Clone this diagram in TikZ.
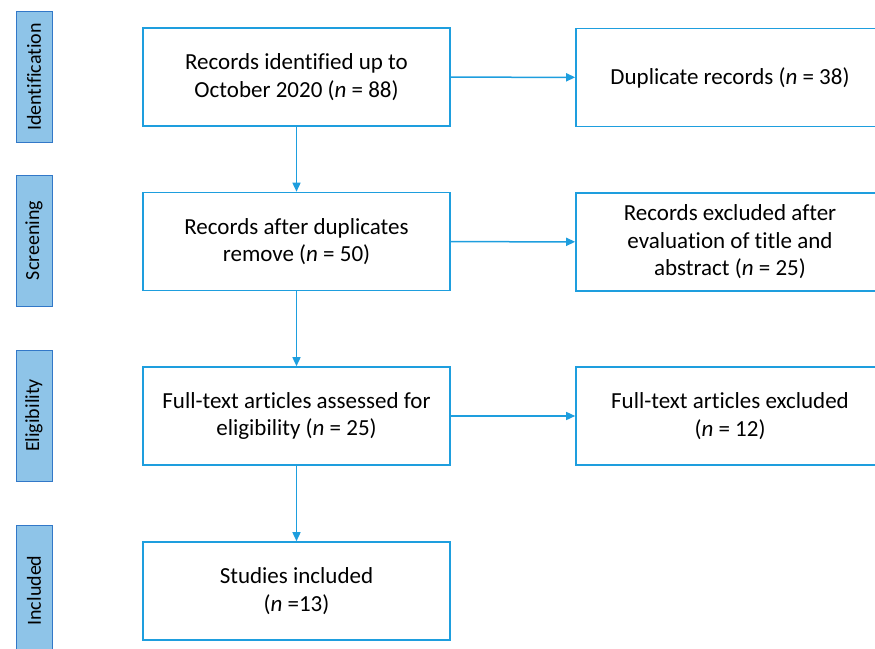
\documentclass[tikz,border=0pt]{standalone}
\usepackage{fontspec}
\setmainfont[Ligatures=NoCommon]{Carlito}
\usetikzlibrary{arrows.meta}
\definecolor{boxblue}{RGB}{30,158,222}
\definecolor{stagefill}{RGB}{142,196,232}
\definecolor{stageline}{RGB}{50,120,200}

\begin{document}
\begin{tikzpicture}[x=1pt,y=-1pt,>={Triangle[length=9pt,width=8pt]},
    box/.style={draw=boxblue,line width=1.6pt,minimum width=307pt,minimum height=98pt,
      align=center,font=\fontsize{23}{27.5}\selectfont},
    stage/.style={draw=stageline,fill=stagefill,line width=1pt,rotate=90,
      minimum width=131pt,minimum height=36pt,inner sep=0pt,font=\fontsize{20}{24}\selectfont},
    flow/.style={->,draw=boxblue,fill=boxblue,line width=1.5pt}]
    \useasboundingbox (0,0) rectangle (875,648);
    % stages
    \node[stage] (sId)  at (34,77)    {Identification} ;
    \node[stage] (sScr) at (34,240.5) {Screening} ;
    \node[stage] (sEl)  at (34,415.5) {Eligibility} ;
    \node[stage] (sInc) at (34,590.5) {Included} ;
    % main column
    \node[box] (rec)   at (296.5,77)  {Records identified up to\\October 2020 (\textit{n} = 88)} ;
    \node[box] (nodup) at (296.5,241.5) {Records after duplicates\\remove (\textit{n} = 50)} ;
    \node[box] (full)  at (296.5,416) {Full-text articles assessed for\\eligibility (\textit{n} = 25)} ;
    \node[box] (incl)  at (296.5,591) {Studies included\\(\textit{n} =13)} ;
    % exclusions
    \node[box,minimum width=308pt] (dup)  at (730,77.5)  {Duplicate records (\textit{n} = 38)} ;
    \node[box,minimum width=308pt] (excl) at (730,242)   {Records excluded after\\evaluation of title and\\abstract (\textit{n} = 25)} ;
    \node[box,minimum width=308pt] (fexc) at (730,416)   {Full-text articles excluded\\(\textit{n} = 12)} ;
    \draw[flow] (rec) -- (nodup);
    \draw[flow] (nodup) -- (full);
    \draw[flow] (full) -- (incl);
    \draw[flow] (rec) -- (dup);
    \draw[flow] (nodup) -- (excl);
    \draw[flow] (full) -- (fexc);
\end{tikzpicture}
\end{document}
